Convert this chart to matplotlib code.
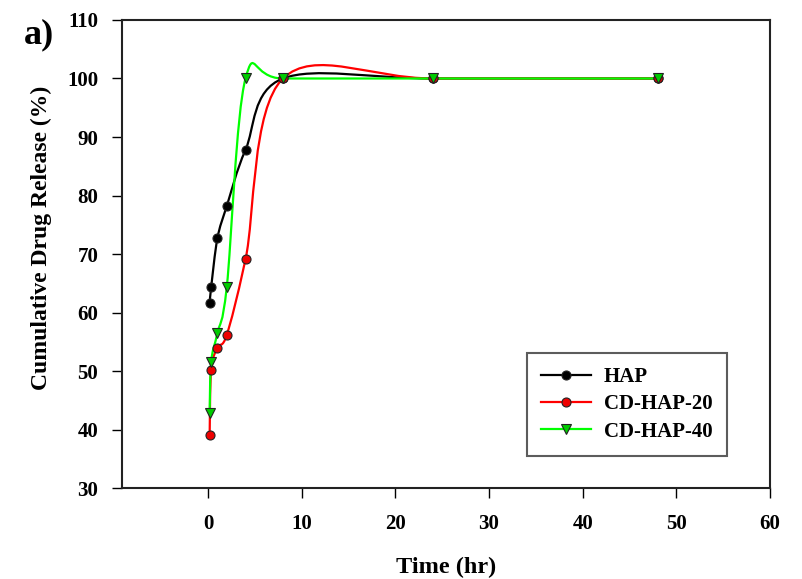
import numpy as np
import matplotlib
matplotlib.use('Agg')
import matplotlib.pyplot as plt
from matplotlib.path import Path
from matplotlib.patches import PathPatch

# release data
time_hr = [0.17, 0.33, 1, 2, 4, 8, 24, 48]
hap = [61.6, 64.3, 72.7, 78.2, 87.8, 100.0, 100.0, 100.0]
cd_hap_20 = [39.1, 50.2, 54.0, 56.2, 69.1, 100.0, 100.0, 100.0]
cd_hap_40 = [42.9, 51.6, 56.5, 64.4, 100.0, 100.0, 100.0, 100.0]

series_names = ['HAP', 'CD-HAP-20', 'CD-HAP-40']
line_colors = ['black', '#ff0000', '#00ff00']
face_colors = ['black', '#ee0000', '#00cc00']
markers = ['o', 'o', 'v']
marker_sizes = [6.5, 6.5, 7.5]


def spline_path(x, y):
    # Catmull-Rom curve through the points, drawn as cubic Bezier segments
    p = np.column_stack([x, y]).astype(float)
    ext = np.vstack([p[0], p, p[-1]])
    verts = [p[0]]
    codes = [Path.MOVETO]
    for i in range(len(p) - 1):
        c1 = p[i] + (ext[i + 2] - ext[i]) / 6
        c2 = p[i + 1] - (ext[i + 3] - ext[i + 1]) / 6
        verts += [c1, c2, p[i + 1]]
        codes += [Path.CURVE4] * 3
    return Path(verts, codes)


plt.rcParams['font.family'] = 'Liberation Serif'
plt.rcParams['font.weight'] = 'bold'

fig = plt.figure(figsize=(8.02, 5.79), dpi=100)
ax = fig.add_axes([0.152, 0.157, 0.808, 0.8085])

for vals, name, lc, fc, mk, ms in zip([hap, cd_hap_20, cd_hap_40], series_names,
                                      line_colors, face_colors, markers, marker_sizes):
    ax.add_patch(PathPatch(spline_path(time_hr, vals), facecolor='none',
                           edgecolor=lc, lw=1.6, zorder=2))
    ax.plot(time_hr, vals, linestyle='none', marker=mk, ms=ms,
            markerfacecolor=fc, markeredgecolor='#222222', markeredgewidth=0.8, zorder=3)
    # proxy for legend (line + marker)
    ax.plot([], [], color=lc, lw=1.6, marker=mk, ms=ms, markerfacecolor=fc,
            markeredgecolor='#222222', markeredgewidth=0.8, label=name)

ax.set_xlim(-9.2, 60)
ax.set_ylim(30, 110)
ax.set_xticks(range(0, 61, 10))
ax.set_yticks(range(30, 111, 10))
ax.tick_params(axis='x', direction='out', length=7, width=1, labelsize=15, pad=12)
ax.tick_params(axis='y', direction='out', length=7, width=1, labelsize=15, pad=10)
for lab in ax.get_xticklabels() + ax.get_yticklabels():
    lab.set_fontweight('bold')
for sp in ax.spines.values():
    sp.set_linewidth(1.5)
    sp.set_color('#222222')

ax.set_xlabel('Time (hr)', fontsize=17.5, fontweight='bold', labelpad=16)
ax.set_ylabel('Cumulative Drug Release (%)', fontsize=17, fontweight='bold')
ax.yaxis.set_label_coords(-0.108, 0.534)

leg = ax.legend(loc='lower right', bbox_to_anchor=(0.934, 0.068), borderaxespad=0,
                frameon=True, fancybox=False, edgecolor='#333333', handlelength=2.4,
                handletextpad=0.6, borderpad=0.7, labelspacing=0.35,
                prop={'weight': 'bold', 'size': 15})
leg.get_frame().set_linewidth(1.5)

fig.text(0.03, 0.926, 'a)', fontsize=26, fontweight='bold')

fig.savefig('out.png', dpi=100)
